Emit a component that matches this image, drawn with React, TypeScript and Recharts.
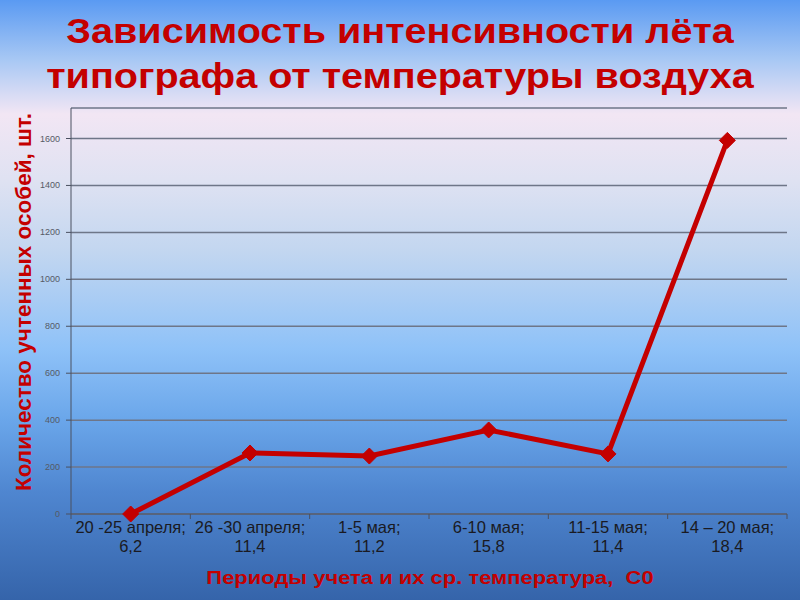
import { CartesianGrid, Line, LineChart, XAxis, YAxis } from "recharts";

const periods = ["20 -25 апреля;", "26 -30 апреля;", "1-5 мая;", "6-10 мая;", "11-15 мая;", "14 – 20 мая;"];
const temps = ["6,2", "11,4", "11,2", "15,8", "11,4", "18,4"];
const counts = [0, 260, 247, 358, 256, 1592];
const yTicks = [0, 200, 400, 600, 800, 1000, 1200, 1400, 1600];

const data = periods.map((p, i) => ({ period: p, temp: temps[i], count: counts[i] }));

const RED = "#c40000";
const AXIS = "#4a5060";

function PeriodTick(props: any) {
  const { x, y, payload, index } = props;
  const half = payload?.offset || 59.7;
  const label = data[index];
  return (
    <g>
      <line x1={x - half} y1={y - 8} x2={x - half} y2={y - 3} stroke={AXIS} />
      {index === data.length - 1 && (
        <line x1={x + half} y1={y - 8} x2={x + half} y2={y - 3} stroke={AXIS} />
      )}
      <text x={x} y={y + 11} textAnchor="middle" fill="#1a1a22" fontSize={16.5}>
        <tspan x={x} dy={0}>{label?.period}</tspan>
        <tspan x={x} dy={19}>{label?.temp}</tspan>
      </text>
    </g>
  );
}

function CountTick(props: any) {
  const { x, y, payload } = props;
  return (
    <text x={x - 4} y={y + 3} textAnchor="end" fill="#555a66" fontSize={9}>
      {payload.value}
    </text>
  );
}

function Diamond(props: any) {
  const { cx, cy } = props;
  if (cx == null || cy == null) return null;
  const r = 8;
  return (
    <polygon
      points={`${cx},${cy - r} ${cx + r},${cy} ${cx},${cy + r} ${cx - r},${cy}`}
      fill={RED}
      stroke={RED}
    />
  );
}

export default function App() {
  return (
    <div
      style={{
        position: "absolute",
        left: 0,
        top: 0,
        width: 800,
        height: 600,
        overflow: "hidden",
        fontFamily: "'Liberation Sans', Arial, sans-serif",
        background:
          "linear-gradient(to bottom, #5a9af2 0%, #a8c8f4 10%, #f2e6f4 19%, #dfe2f2 30%, #c2d6f0 42%, #8fc2f8 58%, #6aa6ea 70%, #4f86d0 82%, #3564aa 100%)",
      }}
    >
      <div
        style={{
          position: "absolute",
          left: 400,
          top: 53,
          transform: "translate(-50%, -50%) scaleX(1.13)",
          whiteSpace: "nowrap",
          textAlign: "center",
          color: RED,
          fontWeight: "bold",
          fontSize: 35,
          lineHeight: "45px",
        }}
      >
        Зависимость интенсивности лёта
        <br />
        типографа от температуры воздуха
      </div>
      <div
        style={{
          position: "absolute",
          left: 24,
          top: 302,
          transform: "translate(-50%, -50%) rotate(-90deg)",
          whiteSpace: "nowrap",
          color: RED,
          fontWeight: "bold",
          fontSize: 22.5,
        }}
      >
        Количество учтенных особей, шт.
      </div>
      <div
        style={{
          position: "absolute",
          left: 430,
          top: 578,
          transform: "translate(-50%, -50%) scaleX(1.22)",
          whiteSpace: "nowrap",
          color: RED,
          fontWeight: "bold",
          fontSize: 18,
        }}
      >
        Периоды учета и их ср. температура,&nbsp; С0
      </div>
      <div style={{ position: "absolute", left: 0, top: 0 }}>
        <LineChart width={800} height={600} data={data} margin={{ top: 108, right: 13, bottom: 0, left: 0 }}>
          <CartesianGrid vertical={false} stroke="#6e7688" strokeWidth={1.5} />
          <XAxis
            dataKey="period"
            scale="band"
            height={86}
            axisLine={{ stroke: AXIS }}
            tickLine={false}
            interval={0}
            tick={<PeriodTick />}
          />
          <YAxis
            width={71}
            domain={[0, 1730]}
            ticks={yTicks}
            interval={0}
            axisLine={{ stroke: AXIS }}
            tickLine={{ stroke: AXIS }}
            tickSize={5}
            tick={<CountTick />}
          />
          <Line
            dataKey="count"
            stroke={RED}
            strokeWidth={5}
            dot={<Diamond />}
            activeDot={false}
            isAnimationActive={false}
          />
        </LineChart>
      </div>
    </div>
  );
}
